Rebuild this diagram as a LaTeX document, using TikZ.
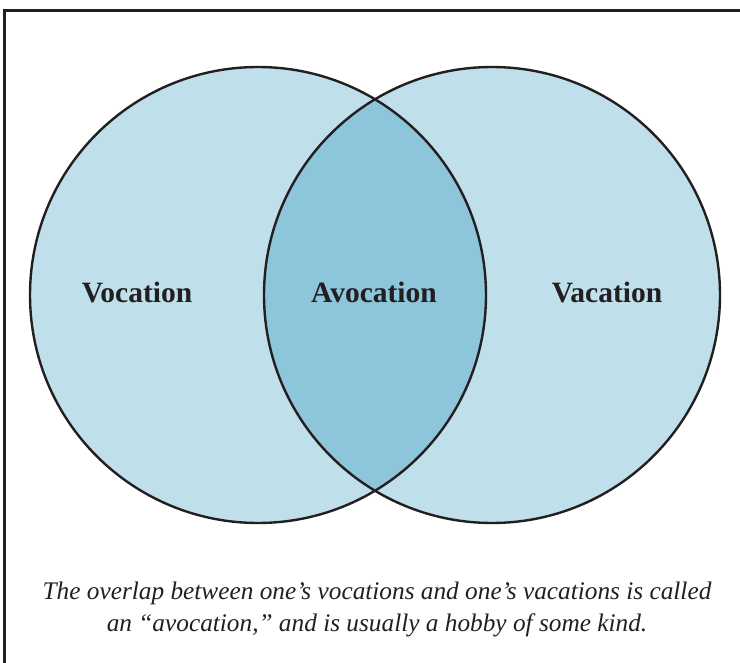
\documentclass[tikz,border=0pt]{standalone}
\usepackage{fontspec}
\setmainfont{Liberation Serif}
\begin{document}
\begin{tikzpicture}[x=1pt,y=-1pt,
  ring/.style={draw=ink,line width=2.4pt},
  lbl/.style={font=\fontsize{29.5}{34}\selectfont\bfseries,text=ink,anchor=base},
  captext/.style={font=\fontsize{25.3}{32}\selectfont\itshape,text=ink,align=center,anchor=north,inner sep=0pt}]
\definecolor{ink}{HTML}{231F20}
\definecolor{lightblue}{HTML}{BFDFEB}
\definecolor{midblue}{HTML}{8DC5DA}
\useasboundingbox (0,0) rectangle (740,663);
% frame
\draw[line width=3pt,ink] (4.5,663) -- (4.5,10.5) -- (740,10.5);
% fills
\fill[lightblue] (258,295) circle (228);
\fill[lightblue] (492,295) circle (228);
\begin{scope}
  \clip (258,295) circle (228);
  \fill[midblue] (492,295) circle (228);
\end{scope}
\draw[ring] (258,295) circle (228);
\draw[ring] (492,295) circle (228);
\node[lbl] (voc) at (137,303) {Vocation};
\node[lbl] (avo) at (374,303) {Avocation};
\node[lbl] (vac) at (607,303) {Vacation};
\node[captext] (caption) at (377,581.5) {The overlap between one’s vocations and one’s vacations is called\\an “avocation,” and is usually a hobby of some kind.};
\end{tikzpicture}
\end{document}
